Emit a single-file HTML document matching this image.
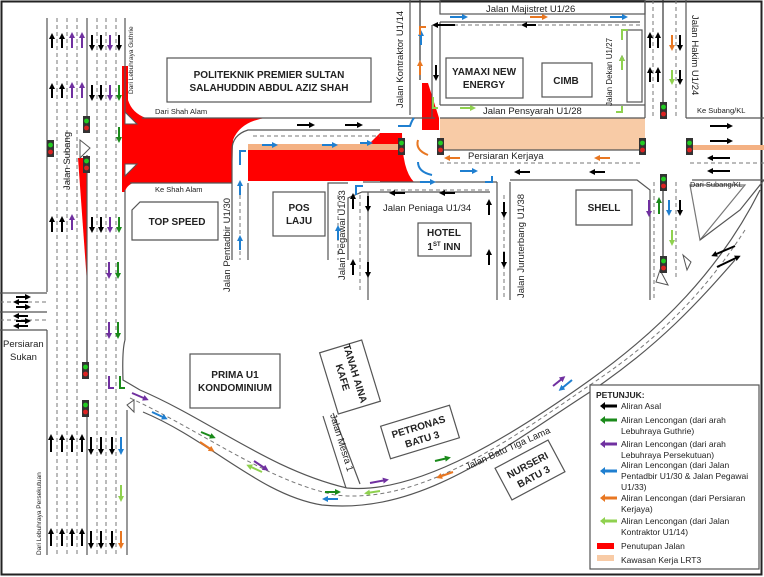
<!DOCTYPE html>
<html><head><meta charset="utf-8"><style>
html,body{margin:0;padding:0;background:#fff}
svg{display:block}
text{font-family:"Liberation Sans",sans-serif;fill:#222}
</style></head><body>
<svg width="764" height="577" viewBox="0 0 764 577" xmlns="http://www.w3.org/2000/svg">
<defs>
<marker id="mk" markerWidth="6" markerHeight="6" refX="3" refY="3" orient="auto" markerUnits="userSpaceOnUse"><path d="M0,0L6,3L0,6Z" fill="#000"/></marker>
<marker id="mg" markerWidth="6" markerHeight="6" refX="3" refY="3" orient="auto" markerUnits="userSpaceOnUse"><path d="M0,0L6,3L0,6Z" fill="#1a8a1a"/></marker>
<marker id="mp" markerWidth="6" markerHeight="6" refX="3" refY="3" orient="auto" markerUnits="userSpaceOnUse"><path d="M0,0L6,3L0,6Z" fill="#7030a0"/></marker>
<marker id="mb" markerWidth="6" markerHeight="6" refX="3" refY="3" orient="auto" markerUnits="userSpaceOnUse"><path d="M0,0L6,3L0,6Z" fill="#1f7fd0"/></marker>
<marker id="mo" markerWidth="6" markerHeight="6" refX="3" refY="3" orient="auto" markerUnits="userSpaceOnUse"><path d="M0,0L6,3L0,6Z" fill="#e87722"/></marker>
<marker id="ml" markerWidth="6" markerHeight="6" refX="3" refY="3" orient="auto" markerUnits="userSpaceOnUse"><path d="M0,0L6,3L0,6Z" fill="#8fd14f"/></marker>
<g id="tl"><rect x="-3" y="-8" width="7" height="17" fill="#333"/><circle cx="0.5" cy="-3" r="2.4" fill="#2c2"/><circle cx="0.5" cy="4" r="2.4" fill="#d22"/></g>
</defs>
<rect x="0" y="0" width="764" height="577" fill="#fff"/>
<rect x="1.5" y="1.5" width="760" height="573" fill="none" stroke="#222" stroke-width="2"/>

<!-- closures red -->
<g fill="#ff0000">
<path d="M122,66 L128,66 L128,100 Q132,113 146,118 L265,118 Q240,122 233,140 L232,183 L133,183 Q126,186 125,192 L122,192 Z"/>
<rect x="248" y="150" width="152" height="31"/>
<path d="M368,145 L380,133 L400,133 L400,150 L360,150 Z"/>
<path d="M78,158 L87,158 L87,283 Z"/>
<path d="M422,83 L428,83 L439,118 L439,130 L422,130 Z"/>
<path d="M380,133 L402,133 Q402,170 414,182 L380,182 Z"/>
</g>
<rect x="248" y="144" width="155" height="6" fill="#f4b183"/>
<rect x="440" y="118" width="205" height="32" fill="#f8cba6"/>
<rect x="688" y="145" width="76" height="5" fill="#f4b183"/>

<g fill="none" stroke="#555" stroke-width="1.2">
<line x1="47" y1="18" x2="47" y2="292"/><line x1="47" y1="330" x2="47" y2="555"/>
<line x1="87" y1="18" x2="87" y2="130"/><line x1="87" y1="155" x2="87" y2="340"/><line x1="87" y1="400" x2="87" y2="555"/>
<line x1="125" y1="18" x2="125" y2="112"/><line x1="125" y1="190" x2="125" y2="340"/><path d="M125,340 Q122,350 123,380 L140,390"/>
<line x1="127" y1="410" x2="127" y2="555"/>
<line x1="0" y1="293" x2="47" y2="293"/><line x1="0" y1="330" x2="47" y2="330"/><line x1="0" y1="312" x2="47" y2="312"/>
<line x1="142" y1="118" x2="435" y2="118"/>
<line x1="130" y1="183" x2="232" y2="183"/>
<path d="M232,260 L232,150 Q232,135 248,130 L380,130"/>
<path d="M248,260 L248,183"/>
<path d="M328,260 L328,183 L348,183"/><path d="M348,260 L348,198 L362,192 L490,192"/>
<line x1="368" y1="192" x2="368" y2="300"/>
<line x1="497" y1="182" x2="497" y2="300"/><line x1="510" y1="182" x2="510" y2="300"/>
<line x1="363" y1="182" x2="497" y2="182"/>
<line x1="442" y1="150" x2="640" y2="150"/>
<line x1="440" y1="118" x2="645" y2="118"/>
<path d="M510,180 L637,180 L650,190 L650,300"/>
<line x1="410" y1="0" x2="410" y2="115"/><line x1="432" y1="25" x2="432" y2="118"/>
<line x1="440" y1="22" x2="640" y2="22"/><line x1="440" y1="22" x2="440" y2="105"/><line x1="440" y1="105" x2="645" y2="105"/>
<line x1="420" y1="0" x2="420" y2="80" stroke="#333"/>
<rect x="440" y="0" width="205" height="14"/>
<rect x="627" y="30" width="15" height="72"/>
<line x1="645" y1="0" x2="645" y2="118"/><line x1="686" y1="0" x2="686" y2="118"/>
<line x1="686" y1="118" x2="764" y2="118"/><line x1="692" y1="180" x2="764" y2="180"/>
<line x1="663" y1="0" x2="663" y2="110" stroke="#333"/>
<line x1="663" y1="182" x2="663" y2="265" stroke="#333"/>
<line x1="87" y1="340" x2="87" y2="368" stroke="#333"/>
<path d="M140,390 C210,420 270,470 347,488 C420,495 520,430 590,380 C660,330 720,270 760,190"/>
<path d="M143,412 C210,440 260,495 322,505 C420,515 500,450 590,392 C660,345 700,300 735,260"/>
<path d="M690,185 L745,185 L700,240 Z" stroke="#777"/>
<path d="M700,240 L740,210 L764,180"/>
</g>
<g fill="none" stroke="#777" stroke-width="1" stroke-dasharray="4,3">
<line x1="57" y1="18" x2="57" y2="555"/><line x1="67" y1="18" x2="67" y2="555"/><line x1="77" y1="18" x2="77" y2="555"/>
<line x1="97" y1="18" x2="97" y2="555"/><line x1="106" y1="18" x2="106" y2="555"/><line x1="116" y1="18" x2="116" y2="555"/>
<line x1="0" y1="302" x2="47" y2="302"/><line x1="0" y1="320" x2="47" y2="320"/>
<line x1="253" y1="136" x2="380" y2="136"/>
<line x1="240" y1="195" x2="240" y2="260"/><line x1="338" y1="195" x2="338" y2="260"/>
<line x1="380" y1="190" x2="490" y2="190"/><line x1="504" y1="195" x2="504" y2="300"/>
<line x1="440" y1="163" x2="640" y2="163"/><line x1="690" y1="163" x2="764" y2="163"/>
<line x1="440" y1="25" x2="640" y2="25"/><line x1="653" y1="0" x2="653" y2="118"/><line x1="676" y1="0" x2="676" y2="118"/>
<line x1="654" y1="182" x2="654" y2="300"/><line x1="676" y1="182" x2="676" y2="280"/>
<line x1="360" y1="195" x2="360" y2="290"/>
<path d="M130,398 C200,430 265,480 335,495 C420,505 510,440 590,385 C650,345 700,300 745,230"/>
</g>

<g fill="none" stroke="#555" stroke-width="1.2">
<rect x="167" y="58" width="204" height="44"/>
<path d="M140,202 L218,202 L218,240 L132,240 L132,210 Z"/>
<rect x="273" y="192" width="52" height="44"/>
<rect x="418" y="223" width="53" height="33"/>
<path d="M576,190 L632,190 L632,225 L576,225 Z"/>
<rect x="446" y="58" width="77" height="40"/>
<rect x="542" y="63" width="50" height="34"/>
<rect x="190" y="354" width="90" height="54"/>
<g transform="translate(350,377) rotate(-17)"><rect x="-22" y="-32" width="44" height="64"/></g>
<g transform="translate(420,432) rotate(-17)"><rect x="-36" y="-17" width="72" height="34"/></g>
<g transform="translate(530,470) rotate(-28)"><rect x="-30" y="-18" width="60" height="36"/></g>
<path d="M323,416 L346,488"/><path d="M333,413 L360,484"/>
</g>

<rect x="590" y="385" width="169" height="184" fill="#fff" stroke="#555" stroke-width="1.2"/>
<g font-size="8.5">
<text x="596" y="398" font-weight="bold">PETUNJUK:</text>
<text x="621" y="409">Aliran Asal</text>
<text x="621" y="423">Aliran Lencongan (dari arah</text><text x="621" y="434">Lebuhraya Guthrie)</text>
<text x="621" y="447">Aliran Lencongan (dari arah</text><text x="621" y="458">Lebuhraya Persekutuan)</text>
<text x="621" y="468">Aliran Lencongan (dari Jalan</text><text x="621" y="479">Pentadbir U1/30 &amp; Jalan Pegawai</text><text x="621" y="490">U1/33)</text>
<text x="621" y="501">Aliran Lencongan (dari Persiaran</text><text x="621" y="512">Kerjaya)</text>
<text x="621" y="524">Aliran Lencongan (dari Jalan</text><text x="621" y="535">Kontraktor U1/14)</text>
<text x="621" y="549">Penutupan Jalan</text>
<text x="621" y="563">Kawasan Kerja LRT3</text>
</g>
<g>
<path d="M600,406 L605,402 L605,404.5 L617,404.5 L617,407.5 L605,407.5 L605,410 Z" fill="#000"/>
<path d="M600,420 L605,416 L605,418.5 L617,418.5 L617,421.5 L605,421.5 L605,424 Z" fill="#1a8a1a"/>
<path d="M600,444 L605,440 L605,442.5 L617,442.5 L617,445.5 L605,445.5 L605,448 Z" fill="#7030a0"/>
<path d="M600,471 L605,467 L605,469.5 L617,469.5 L617,472.5 L605,472.5 L605,475 Z" fill="#1f7fd0"/>
<path d="M600,498 L605,494 L605,496.5 L617,496.5 L617,499.5 L605,499.5 L605,502 Z" fill="#e87722"/>
<path d="M600,521 L605,517 L605,519.5 L617,519.5 L617,522.5 L605,522.5 L605,525 Z" fill="#8fd14f"/>
</g>
<rect x="597" y="543" width="17" height="6" fill="#ff0000"/>
<rect x="597" y="555" width="17" height="6" fill="#f8cba6"/>

<g stroke-width="2">
<g stroke="#000" marker-end="url(#mk)">
<line x1="52" y1="48" x2="52" y2="36"/><line x1="62" y1="48" x2="62" y2="36"/>
<line x1="52" y1="98" x2="52" y2="86"/><line x1="62" y1="98" x2="62" y2="86"/>
<line x1="52" y1="232" x2="52" y2="219"/><line x1="62" y1="232" x2="62" y2="219"/>
<line x1="92" y1="35" x2="92" y2="48"/><line x1="101" y1="35" x2="101" y2="48"/><line x1="119" y1="35" x2="119" y2="48"/>
<line x1="92" y1="85" x2="92" y2="98"/><line x1="101" y1="85" x2="101" y2="98"/>
<line x1="92" y1="217" x2="92" y2="230"/><line x1="101" y1="217" x2="101" y2="230"/>
<line x1="51" y1="452" x2="51" y2="437"/><line x1="62" y1="452" x2="62" y2="437"/><line x1="72" y1="452" x2="72" y2="437"/><line x1="82" y1="452" x2="82" y2="437"/>
<line x1="91" y1="437" x2="91" y2="452"/><line x1="101" y1="437" x2="101" y2="452"/><line x1="112" y1="437" x2="112" y2="452"/>
<line x1="51" y1="546" x2="51" y2="531"/><line x1="62" y1="546" x2="62" y2="531"/><line x1="72" y1="546" x2="72" y2="531"/><line x1="82" y1="546" x2="82" y2="531"/>
<line x1="91" y1="531" x2="91" y2="546"/><line x1="101" y1="531" x2="101" y2="546"/><line x1="112" y1="531" x2="112" y2="546"/>
<line x1="16" y1="297" x2="28" y2="297"/><line x1="28" y1="302" x2="16" y2="302"/><line x1="16" y1="307" x2="28" y2="307"/><line x1="28" y1="316" x2="16" y2="316"/><line x1="16" y1="321" x2="28" y2="321"/><line x1="28" y1="326" x2="16" y2="326"/>
<line x1="297" y1="125" x2="312" y2="125"/><line x1="345" y1="125" x2="360" y2="125"/>
<line x1="405" y1="193" x2="392" y2="193"/><line x1="455" y1="193" x2="442" y2="193"/>
<line x1="530" y1="172" x2="517" y2="172"/><line x1="605" y1="172" x2="592" y2="172"/>
<line x1="710" y1="126" x2="730" y2="126"/><line x1="710" y1="141" x2="730" y2="141"/><line x1="730" y1="158" x2="710" y2="158"/><line x1="730" y1="171" x2="710" y2="171"/>
<line x1="455" y1="25" x2="435" y2="25"/><line x1="536" y1="25" x2="524" y2="25"/>
<line x1="436" y1="65" x2="436" y2="78"/><line x1="622" y1="70" x2="622" y2="58"/>
<line x1="650" y1="48" x2="650" y2="35"/><line x1="658" y1="48" x2="658" y2="35"/><line x1="680" y1="35" x2="680" y2="48"/>
<line x1="650" y1="82" x2="650" y2="70"/><line x1="658" y1="82" x2="658" y2="70"/><line x1="680" y1="70" x2="680" y2="82"/>
<line x1="680" y1="200" x2="680" y2="213"/>
<line x1="489" y1="215" x2="489" y2="202"/><line x1="504" y1="202" x2="504" y2="215"/>
<line x1="489" y1="265" x2="489" y2="252"/><line x1="504" y1="252" x2="504" y2="265"/>
<line x1="735" y1="246" x2="714" y2="255"/><line x1="717" y1="267" x2="738" y2="257"/>
<line x1="353" y1="209" x2="353" y2="196"/><line x1="368" y1="196" x2="368" y2="209"/>
<line x1="353" y1="275" x2="353" y2="262"/><line x1="368" y1="262" x2="368" y2="275"/>
</g>
<g stroke="#7030a0" marker-end="url(#mp)">
<line x1="72" y1="48" x2="72" y2="35"/><line x1="82" y1="48" x2="82" y2="35"/><line x1="110" y1="35" x2="110" y2="48"/>
<line x1="72" y1="98" x2="72" y2="85"/><line x1="82" y1="98" x2="82" y2="85"/><line x1="110" y1="85" x2="110" y2="98"/>
<line x1="72" y1="230" x2="72" y2="217"/><line x1="110" y1="217" x2="110" y2="230"/>
<line x1="109" y1="262" x2="109" y2="276"/><line x1="109" y1="322" x2="109" y2="336"/>
<line x1="132" y1="393" x2="146" y2="399"/><line x1="254" y1="461" x2="266" y2="469"/>
<line x1="370" y1="483" x2="386" y2="480"/><line x1="553" y1="386" x2="563" y2="378"/>
<line x1="649" y1="200" x2="649" y2="214"/>
</g>
<g stroke="#1a8a1a" marker-end="url(#mg)">
<line x1="119" y1="85" x2="119" y2="98"/><line x1="119" y1="127" x2="119" y2="140"/><line x1="119" y1="217" x2="119" y2="230"/>
<line x1="118" y1="262" x2="118" y2="276"/><line x1="118" y1="322" x2="118" y2="336"/>
<line x1="201" y1="432" x2="213" y2="437"/><line x1="325" y1="492" x2="338" y2="492"/><line x1="435" y1="461" x2="448" y2="458"/>
<line x1="659" y1="214" x2="659" y2="200"/>
</g>
<g stroke="#1f7fd0" marker-end="url(#mb)">
<line x1="262" y1="145" x2="275" y2="145"/><line x1="322" y1="145" x2="335" y2="145"/><line x1="360" y1="143" x2="370" y2="143"/>
<line x1="240" y1="195" x2="240" y2="183"/><line x1="240" y1="250" x2="240" y2="238"/><line x1="338" y1="240" x2="338" y2="228"/>
<line x1="121" y1="437" x2="121" y2="452"/><line x1="152" y1="412" x2="165" y2="418"/><line x1="338" y1="499" x2="325" y2="499"/>
<line x1="572" y1="380" x2="561" y2="389"/>
<line x1="421" y1="45" x2="421" y2="33"/>
<line x1="450" y1="17" x2="465" y2="17"/><line x1="610" y1="17" x2="625" y2="17"/>
<line x1="460" y1="171" x2="475" y2="171"/><line x1="420" y1="182" x2="433" y2="182"/>
<line x1="669" y1="200" x2="669" y2="213"/>
</g>
<g stroke="#e87722" marker-end="url(#mo)">
<line x1="121" y1="531" x2="121" y2="546"/><line x1="200" y1="442" x2="212" y2="450"/><line x1="453" y1="472" x2="439" y2="477"/>
<line x1="460" y1="158" x2="447" y2="158"/><line x1="610" y1="158" x2="597" y2="158"/>
<line x1="530" y1="17" x2="545" y2="17"/><line x1="420" y1="75" x2="420" y2="63"/>
<line x1="672" y1="35" x2="672" y2="48"/>
</g>
<g stroke="#8fd14f" marker-end="url(#ml)">
<line x1="121" y1="485" x2="121" y2="499"/><line x1="262" y1="472" x2="249" y2="466"/><line x1="380" y1="491" x2="367" y2="493"/>
<line x1="460" y1="108" x2="473" y2="108"/><line x1="622" y1="70" x2="622" y2="58"/>
<line x1="672" y1="70" x2="672" y2="82"/><line x1="672" y1="230" x2="672" y2="243"/>
</g>
<g fill="none">
<path d="M109,376 V388 H114" stroke="#7030a0"/><path d="M120,376 V388 H125" stroke="#1a8a1a"/>
<path d="M420,35 V27 H426" stroke="#e87722"/><path d="M622,40 V30 H628" stroke="#8fd14f"/>
<path d="M433,97 V108 H438" stroke="#8fd14f"/><path d="M616,112 H622 V106" stroke="#8fd14f"/>
<path d="M240,165 V151 H246" stroke="#1f7fd0"/><path d="M356,195 V186 H363" stroke="#1f7fd0"/>
<path d="M398,126 H410 Q412,120 414,118" stroke="#1f7fd0"/>
<path d="M428,155 Q415,150 418,140" stroke="#e87722"/><path d="M432,175 Q418,172 418,162" stroke="#1f7fd0"/>
<path d="M485,182 H492 V176" stroke="#1f7fd0"/>
</g>
</g>
<g fill="#fff" stroke="#555">
<path d="M80,140 L90,148 L80,158 Z"/><path d="M125,164 L137,164 L125,176 Z"/><path d="M125,112 L137,124 L125,124 Z"/>
<path d="M660,270 L668,285 L656,282 Z"/><path d="M683,255 L691,262 L687,270 Z"/>
<path d="M127,405 L134,400 L134,412 Z"/>
</g>
<use href="#tl" x="86" y="124"/><use href="#tl" x="86" y="164"/><use href="#tl" x="50" y="148"/>
<use href="#tl" x="401" y="146"/><use href="#tl" x="440" y="146"/><use href="#tl" x="642" y="146"/><use href="#tl" x="689" y="146"/>
<use href="#tl" x="663" y="110"/><use href="#tl" x="663" y="182"/><use href="#tl" x="663" y="264"/>
<use href="#tl" x="85" y="370"/><use href="#tl" x="85" y="408"/>

<g font-weight="bold" text-anchor="middle" font-size="10">
<text x="269" y="78">POLITEKNIK PREMIER SULTAN</text><text x="269" y="91">SALAHUDDIN ABDUL AZIZ SHAH</text>
<text x="177" y="225">TOP SPEED</text>
<text x="299" y="211">POS</text><text x="299" y="224">LAJU</text>
<text x="444" y="236">HOTEL</text><text x="444" y="250">1<tspan font-size="6" dy="-4">ST</tspan><tspan dy="4"> INN</tspan></text>
<text x="604" y="211">SHELL</text>
<text x="484" y="75">YAMAXI NEW</text><text x="484" y="88">ENERGY</text>
<text x="566" y="84">CIMB</text>
<text x="235" y="378">PRIMA U1</text><text x="235" y="391">KONDOMINIUM</text>
<g transform="translate(420,432) rotate(-17)"><text y="-2">PETRONAS</text><text y="11">BATU 3</text></g>
<g transform="translate(530,470) rotate(-28)"><text y="-2">NURSERI</text><text y="11">BATU 3</text></g>
<g transform="translate(350,375) rotate(73)"><text y="-2">TANAH AINA</text><text y="11">KAFE</text></g>
</g>
<g font-size="9.5">
<text x="486" y="12">Jalan Majistret U1/26</text>
<text x="483" y="114">Jalan Pensyarah U1/28</text>
<text x="468" y="159">Persiaran Kerjaya</text>
<text x="383" y="211">Jalan Peniaga U1/34</text>
<text x="3" y="347">Persiaran</text><text x="10" y="360">Sukan</text>
<text transform="translate(403,108) rotate(-90)">Jalan Kontraktor U1/14</text>
<text transform="translate(612,106) rotate(-90)" font-size="8">Jalan Dekan U1/27</text>
<text transform="translate(692,15) rotate(90)">Jalan Hakim U1/24</text>
<text transform="translate(230,292) rotate(-90)">Jalan Pentadbir U1/30</text>
<text transform="translate(345,280) rotate(-90)">Jalan Pegawai U1/33</text>
<text transform="translate(524,298) rotate(-90)">Jalan Juruterbang U1/38</text>
<text transform="translate(70,190) rotate(-90)">Jalan Subang</text>
<text transform="translate(330,415) rotate(73)">Jalan Mesra 1</text>
<text transform="translate(467,470) rotate(-24)">Jalan Batu Tiga Lama</text>
</g>
<g font-size="7.5">
<text x="155" y="114">Dari Shah Alam</text><text x="155" y="192">Ke Shah Alam</text>
<text x="697" y="113">Ke Subang/KL</text><text x="690" y="187">Dari Subang/KL</text>
<text transform="translate(133,94) rotate(-90)" font-size="6.5">Dari Lebuhraya Guthrie</text>
<text transform="translate(41,555) rotate(-90)" font-size="6.5">Dari Lebuhraya Persekutuan</text>
</g>
</svg>
</body></html>
